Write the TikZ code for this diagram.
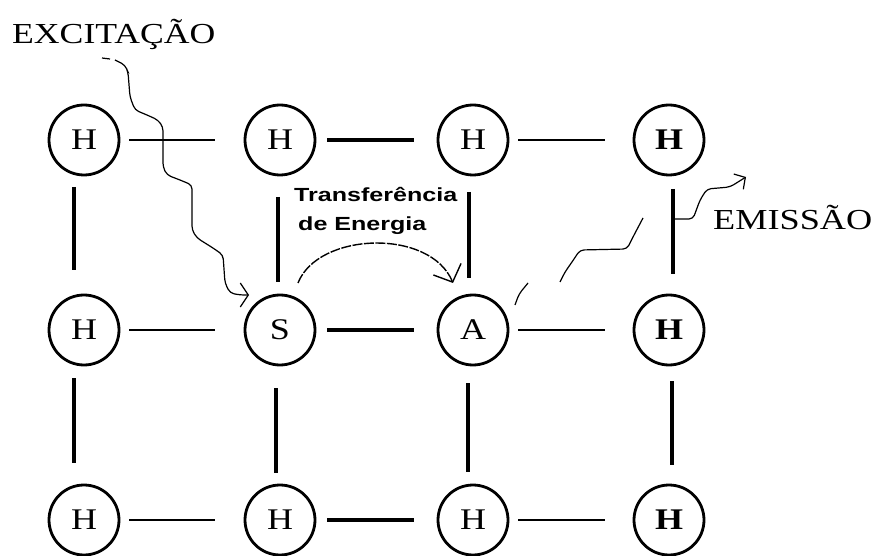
\documentclass[tikz,border=0pt]{standalone}
\usepackage{fontspec}
\setmainfont{Liberation Serif}
\newfontfamily\trfont{Liberation Sans}
\usepackage{graphicx}
\usetikzlibrary{arrows.meta}
\newcommand{\widetxt}[2][1.2]{\scalebox{#1}[1]{#2}}
\tikzset{
  atom/.style={circle, draw, line width=2.8pt, minimum size=70pt, inner sep=0pt, outer sep=0pt,
               font=\fontsize{30}{30}\selectfont},
  bond/.style={line width=2pt},
  thickbond/.style={line width=4pt},
  vbond/.style={line width=3.2pt},
  wave/.style={line width=1.2pt, rounded corners=4pt},
  lbl/.style={inner sep=0pt, font=\fontsize{29}{29}\selectfont},
  trlbl/.style={inner sep=0pt, font=\trfont\bfseries\fontsize{19}{19}\selectfont},
}
\begin{document}
\begin{tikzpicture}[x=1pt,y=-1pt]
\useasboundingbox (0,0) rectangle (879,556);

% atoms
\node[atom] (h11) at (84,140) {\widetxt{H}};
\node[atom] (h12) at (280,140) {\widetxt{H}};
\node[atom] (h13) at (473,140) {\widetxt{H}};
\node[atom] (h14) at (669,140) {\widetxt{\bfseries H}};
\node[atom] (h21) at (84,330) {\widetxt{H}};
\node[atom] (s) at (280,330) {\widetxt{S}};
\node[atom] (a) at (473,330) {\widetxt{A}};
\node[atom] (h24) at (669,330) {\widetxt{\bfseries H}};
\node[atom] (h31) at (84,520) {\widetxt{H}};
\node[atom] (h32) at (280,520) {\widetxt{H}};
\node[atom] (h33) at (473,520) {\widetxt{H}};
\node[atom] (h34) at (669,520) {\widetxt{\bfseries H}};

% horizontal bonds
\draw[bond, shorten <=10pt, shorten >=30pt] (h11) -- (h12);
\draw[thickbond, shorten <=12pt, shorten >=24pt] (h12) -- (h13);
\draw[bond, shorten <=10pt, shorten >=29pt] (h13) -- (h14);
\draw[bond, shorten <=10pt, shorten >=30pt] (h21) -- (s);
\draw[thickbond, shorten <=12pt, shorten >=24pt] (s) -- (a);
\draw[bond, shorten <=10pt, shorten >=29pt] (a) -- (h24);
\draw[bond, shorten <=10pt, shorten >=30pt] (h31) -- (h32);
\draw[thickbond, shorten <=12pt, shorten >=24pt] (h32) -- (h33);
\draw[bond, shorten <=10pt, shorten >=29pt] (h33) -- (h34);

% vertical bonds
\draw[vbond, shorten <=12pt, shorten >=25pt] ([xshift=-10pt]h11.south) -- ([xshift=-10pt]h21.north);
\draw[vbond, shorten <=22pt, shorten >=13pt] ([xshift=-2pt]h12.south) -- ([xshift=-2pt]s.north);
\draw[vbond, shorten <=17pt, shorten >=17pt] ([xshift=-4pt]h13.south) -- ([xshift=-4pt]a.north);
\draw[vbond, shorten <=14pt, shorten >=21pt] ([xshift=4pt]h14.south) -- ([xshift=4pt]h24.north);
\draw[vbond, shorten <=13pt, shorten >=22pt] ([xshift=-10pt]h21.south) -- ([xshift=-10pt]h31.north);
\draw[vbond, shorten <=23pt, shorten >=12pt] ([xshift=-4pt]s.south) -- ([xshift=-4pt]h32.north);
\draw[vbond, shorten <=18pt, shorten >=13pt] ([xshift=-5pt]a.south) -- ([xshift=-5pt]h33.north);
\draw[vbond, shorten <=16pt, shorten >=20pt] ([xshift=3pt]h24.south) -- ([xshift=3pt]h34.north);

% labels
\node[lbl, anchor=base west] (exc) at (12,44) {\widetxt[1.23]{EXCITAÇÃO}};
\node[lbl, anchor=base west] (emi) at (713,230) {\widetxt[1.25]{EMISSÃO}};
\node[trlbl, anchor=base west] (tr1) at (294,202) {\widetxt[1.32]{Transferência}};
\node[trlbl, anchor=base west] (tr2) at (298,231) {\widetxt[1.32]{de Energia}};

% excitation wavy arrow
\coordinate (ex0) at (102,58);
\coordinate (ex1) at (110,59);
\coordinate (exs) at (115,60);
\coordinate (exe) at (249,295);
\draw[wave] (ex0) -- (ex1);
\draw[wave, -{Straight Barb[length=8pt,width=24pt,line width=1.2pt]}]
  (exs) -- (125,65) -- (128,72) -- (130,97) -- (135,110) -- (147,115) -- (158,120)
  -- (163,127) -- (163,167) -- (167,175) -- (180,180) -- (192,185) -- (192,230)
  -- (197,238) -- (213,248) -- (223,255) -- (225,283) -- (230,293) -- (240,295) -- (exe);

% energy transfer arrow
\coordinate (ts) at (298,283);
\coordinate (te) at (453,283);
\draw[line width=1.4pt, dash pattern=on 10pt off 1.5pt, -{Straight Barb[length=14pt,width=30pt,line width=1.4pt]}]
  (ts) .. controls (318,232) and (430,228) .. (te);

% emission wavy arrow
\coordinate (em0) at (515,305);
\coordinate (em1) at (528,283);
\coordinate (em2) at (560,282);
\coordinate (em3) at (643,218);
\coordinate (em4) at (673,219);
\coordinate (em5) at (746,177);
\draw[wave] (em0) -- (519,294) -- (em1);
\draw[wave] (em2) -- (565,272) -- (572,262) -- (580,250) -- (627,249) -- (633,237) -- (em3);
\draw[wave, -{Straight Barb[length=8pt,width=18pt,line width=1.2pt]}]
  (em4) -- (693,219) -- (700,200) -- (707,189) -- (730,187) -- (em5);
\end{tikzpicture}
\end{document}
